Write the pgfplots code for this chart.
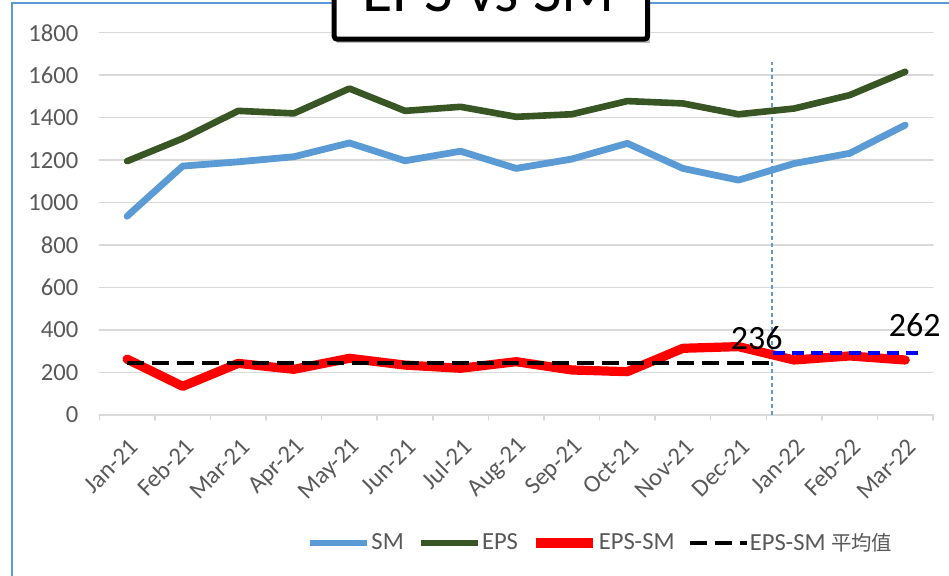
\documentclass[border=0pt]{standalone}
\usepackage{pgfplots}
\pgfplotsset{compat=1.18}
\usepackage{fontspec}
\setmainfont{Carlito}
\newfontfamily\cjk{Noto Sans CJK TC}
\definecolor{smblue}{HTML}{5B9BD5}
\definecolor{epsgreen}{HTML}{375623}
\definecolor{txtgray}{HTML}{595959}
\definecolor{gridgray}{HTML}{D9D9D9}

% 1 px of the reference = 0.5pt
\begin{document}
\begin{tikzpicture}
\clip (0pt,0pt) rectangle (474.5pt,-288pt);
\useasboundingbox (0pt,0pt) rectangle (474.5pt,-288pt);
\fill[white] (0pt,0pt) rectangle (474.5pt,-288pt);
% chart frame
\draw[smblue, line width=1pt] (5.85pt,-290pt) -- (5.85pt,-1.5pt) -- (476pt,-1.5pt);

\begin{axis}[
    at={(49.65pt,-207.5pt)}, anchor=south west,
    scale only axis,
    width=416.85pt, height=191.15pt,
    xmin=-0.5, xmax=14.5,
    ymin=0, ymax=1800,
    clip=false,
    axis x line*=bottom,
    axis y line*=left,
    x axis line style={draw=gridgray, line width=0.75pt, -},
    y axis line style={draw=none},
    xtick={0,...,14},
    xticklabels={Jan-21,Feb-21,Mar-21,Apr-21,May-21,Jun-21,Jul-21,Aug-21,
                 Sep-21,Oct-21,Nov-21,Dec-21,Jan-22,Feb-22,Mar-22},
    minor xtick={-0.5,0.5,...,14.5},
    major tick length=0pt,
    minor tick length=2.5pt,
    tick align=outside,
    minor tick style={gridgray, line width=0.75pt},
    ytick={0,200,...,1800},
    ytick style={draw=none},
    ymajorgrids,
    major grid style={gridgray, line width=0.75pt},
    /pgf/number format/assume math mode=true,
    /pgf/number format/1000 sep={},
    tick label style={font=\fontsize{12.3}{14}\selectfont, text=txtgray},
    yticklabel style={anchor=east, xshift=-7pt},
    xticklabel style={xshift=6pt, yshift=-11.5pt, rotate=45, anchor=east},
    legend style={at={(0.6006,-0.3348)}, anchor=center, draw=none, fill=none,
        legend columns=-1, font=\fontsize{12.3}{14}\selectfont, text=txtgray,
        /tikz/every even column/.append style={column sep=6.5pt},
        nodes={inner sep=0.4pt}},
    legend image code/.code={\draw[#1] (0pt,0pt) -- (28.5pt,0pt);},
    line cap=round, line join=round,
]

% split marker between 2021 and 2022
\addplot[smblue, line width=0.7pt, dash pattern=on 2pt off 1.5pt, forget plot, line cap=butt]
    coordinates {(11.6,0) (11.6,1660)};

\addplot[smblue, line width=3.4pt] coordinates {
    (0,936) (1,1172) (2,1192) (3,1216) (4,1281) (5,1197) (6,1242) (7,1161)
    (8,1205) (9,1279) (10,1161) (11,1106) (12,1184) (13,1232) (14,1365)
};
\addlegendentry{SM}

\addplot[epsgreen, line width=3.3pt] coordinates {
    (0,1195) (1,1302) (2,1432) (3,1420) (4,1537) (5,1432) (6,1451) (7,1404)
    (8,1416) (9,1478) (10,1467) (11,1416) (12,1443) (13,1506) (14,1616)
};
\addlegendentry{EPS}

\addplot[red, line width=4.6pt] coordinates {
    (0,263) (1,135) (2,243) (3,215) (4,267) (5,235) (6,220) (7,251)
    (8,212) (9,204) (10,314) (11,322) (12,259) (13,278) (14,259)
};
\addlegendentry{EPS-SM}

\addplot[black, line width=1.8pt, dash pattern=on 8.5pt off 4pt, line cap=butt]
    coordinates {(0,246) (11.55,246)};
\addlegendentry{EPS-SM {\cjk\fontsize{10.2}{14}\selectfont 平均值}}

\addplot[blue, line width=2pt, dash pattern=on 6pt off 3.5pt, line cap=butt, forget plot]
    coordinates {(11.62,290) (14.35,290)};

\node[font=\fontsize{17}{17}\selectfont] at (axis cs:11.33,362) {236};
\node[font=\fontsize{17}{17}\selectfont] at (axis cs:14.17,424) {262};
\end{axis}

% chart title box, cut by the top edge
\fill[black!25] (168.6pt,20pt) rectangle (325.2pt,-21.6pt);
\draw[black, line width=2.5pt, rounded corners=1.5pt, fill=white]
    (167.1pt,22pt) rectangle (323.75pt,-19.6pt);
\node[font=\fontsize{31}{31}\selectfont, anchor=base, inner sep=0pt]
    at (244.2pt,-5.85pt) {EPS vs SM};
\end{tikzpicture}
\end{document}
